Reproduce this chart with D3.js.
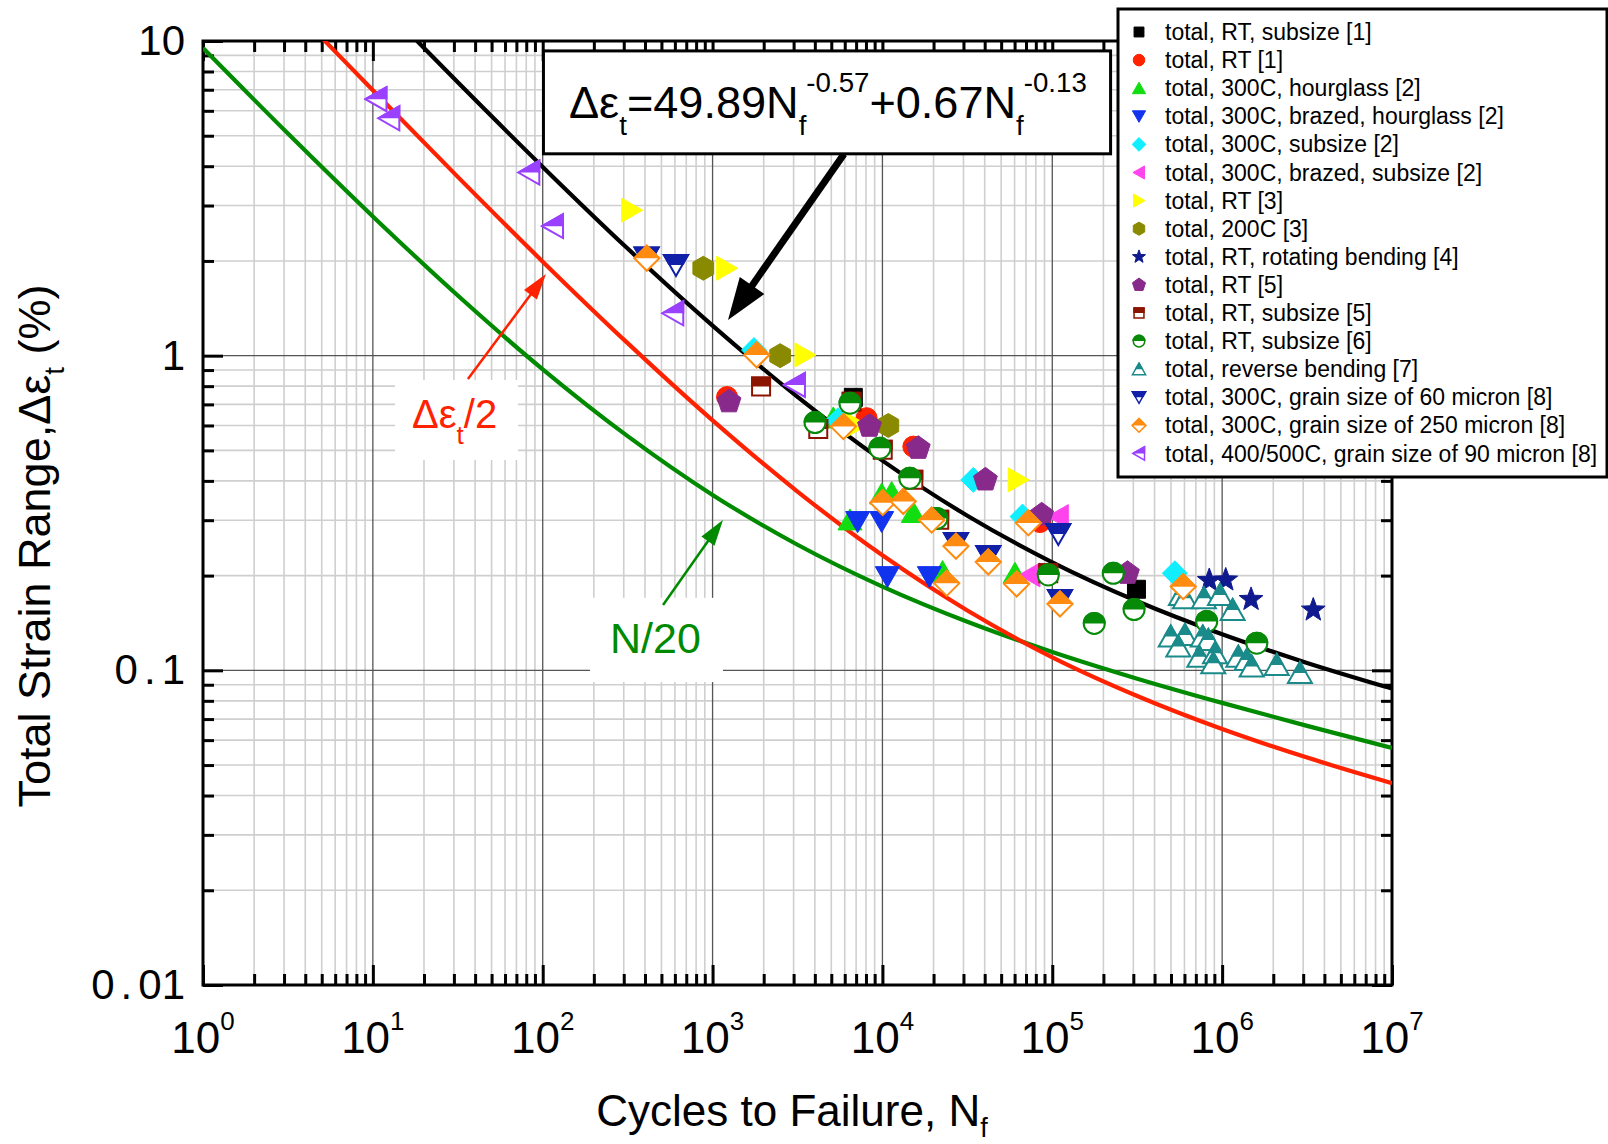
<!DOCTYPE html>
<html lang="en">
<head>
<meta charset="UTF-8">
<title>Strain-life</title>
<script src="https://d3js.org/d3.v7.min.js"></script>
<style>
  body { margin: 0; background: #fff; }
  svg text { font-family: "Liberation Sans", Arial, sans-serif; }
</style>
</head>
<body>
<div id="chart"></div>
<script>
// fitted curves (cycles, strain range %)
var totalCurveN = [10, 31.62, 100, 316.2, 1000, 3162, 10000, 31623, 100000, 316228, 1000000, 3162278, 10000000];
var totalCurve = [13.93, 7.39, 3.98, 2.19, 1.246, 0.740, 0.464, 0.310, 0.2205, 0.1658, 0.1302, 0.1056, 0.0875];
var halfCurveN = [3.162, 10, 31.62, 100, 316.2, 1000, 3162, 10000, 31623, 100000, 316228, 1000000, 3162278, 10000000];
var halfCurve = [13.23, 6.97, 3.70, 1.99, 1.096, 0.623, 0.370, 0.232, 0.155, 0.110, 0.0829, 0.0651, 0.0528, 0.0438];
var n20CurveN = [1, 3.162, 10, 31.62, 100, 316.2, 1000, 3162, 10000, 31623, 100000, 316228, 1000000, 3162278, 10000000];
var n20Curve = [9.50, 5.08, 2.77, 1.553, 0.905, 0.555, 0.361, 0.2507, 0.1846, 0.1427, 0.1144, 0.0941, 0.0788, 0.0666, 0.0567];

// test data [cycles, strain range %]
var rtSubsize1 = [[6740, 0.737], [313000, 0.181]];
var rt1 = [[1217, 0.739], [8070, 0.633], [15200, 0.514], [84700, 0.296]];
var hourglass300 = [[5140, 0.634], [9900, 0.3635], [11330, 0.3675], [15200, 0.3175], [6440, 0.3006], [22600, 0.206], [60300, 0.2035]];
var brazedHourglass300 = [[7150, 0.297], [9900, 0.297], [10690, 0.1985], [18900, 0.1985]];
var subsize300 = [[1754, 1.042], [5480, 0.623], [34300, 0.403], [66800, 0.308], [527000, 0.2035]];
var brazedSubsize300 = [[108500, 0.308], [73900, 0.201]];
var rt3 = [[334, 2.90], [1211, 1.896], [3500, 1.005], [7050, 0.602], [63000, 0.403]];
var c200_3 = [[882, 1.896], [2500, 1.0], [10830, 0.600]];
var rotating4 = [[840000, 0.193], [1050000, 0.1937], [1480000, 0.168], [3440000, 0.1555]];
var rt5 = [[1250, 0.714], [8390, 0.597], [16260, 0.508], [40400, 0.403], [86600, 0.312], [277000, 0.2035]];
var rtSubsize5 = [[1930, 0.798], [6590, 0.714], [4190, 0.585], [10040, 0.502], [15200, 0.403], [21600, 0.301], [94700, 0.2035]];
var rtSubsize6 = [[6440, 0.706], [4010, 0.613], [9660, 0.508], [14500, 0.408], [20900, 0.304], [94700, 0.201], [228600, 0.2034], [176600, 0.141], [303000, 0.156], [811000, 0.143], [1600000, 0.122]];
var reverse7 = [[572000, 0.1735], [604000, 0.1694], [781000, 0.1694], [971000, 0.1735], [1153000, 0.1555], [498000, 0.128], [604000, 0.1296], [552000, 0.119], [769000, 0.128], [829000, 0.1249], [734000, 0.1105], [908000, 0.1133], [887000, 0.1053], [1245000, 0.1105], [1395000, 0.1079], [1493000, 0.1028], [2096000, 0.104], [2870000, 0.098]];
var grain60 = [[409, 2.05], [609, 1.94], [108500, 0.271], [27100, 0.254], [42000, 0.231], [111000, 0.1674]];
var grain250 = [[410, 2.04], [1820, 1.005], [5890, 0.595], [10040, 0.341], [13270, 0.344], [19500, 0.300], [27100, 0.248], [42000, 0.221], [23900, 0.189], [61700, 0.188], [72300, 0.294], [111000, 0.1625], [590000, 0.1845]];
var grain90 = [[10.5, 6.53], [12.5, 5.68], [83.4, 3.82], [115, 2.58], [587, 1.364], [3055, 0.807]];

var legendLabels = [
    'total, RT, subsize [1]',
    'total, RT [1]',
    'total, 300C, hourglass [2]',
    'total, 300C, brazed, hourglass [2]',
    'total, 300C, subsize [2]',
    'total, 300C, brazed, subsize [2]',
    'total, RT [3]',
    'total, 200C [3]',
    'total, RT, rotating bending [4]',
    'total, RT [5]',
    'total, RT, subsize [5]',
    'total, RT, subsize [6]',
    'total, reverse bending [7]',
    'total, 300C, grain size of 60 micron [8]',
    'total, 300C, grain size of 250 micron [8]',
    'total, 400/500C, grain size of 90 micron [8]'
];

var xTickValues = [1, 10, 100, 1000, 10000, 100000, 1000000, 10000000];
var xTickExp = ['0', '1', '2', '3', '4', '5', '6', '7'];
var yTickValues = [0.01, 0.1, 1, 10];
var yTickLabels = ['0.01', '0.1', '1', '10'];

var series = [
    { data: rtSubsize1, color: '#000000', shape: 'square', half: false },
    { data: rt1, color: '#ff2200', shape: 'circle', half: false },
    { data: hourglass300, color: '#11dd11', shape: 'triUp', half: false },
    { data: brazedHourglass300, color: '#1133ee', shape: 'triDown', half: false },
    { data: subsize300, color: '#11eeff', shape: 'diamond', half: false },
    { data: brazedSubsize300, color: '#ff44ee', shape: 'triLeft', half: false },
    { data: rt3, color: '#ffff00', shape: 'triRight', half: false },
    { data: c200_3, color: '#8a8a00', shape: 'hexagon', half: false },
    { data: rotating4, color: '#0f1a8f', shape: 'star', half: false },
    { data: rt5, color: '#882a8c', shape: 'pentagon', half: false },
    { data: rtSubsize5, color: '#8b1500', shape: 'square', half: true },
    { data: rtSubsize6, color: '#078a07', shape: 'circle', half: true },
    { data: reverse7, color: '#1a8a8a', shape: 'triUp', half: true },
    { data: grain60, color: '#1020a8', shape: 'triDown', half: true },
    { data: grain250, color: '#ff8c10', shape: 'diamond', half: true },
    { data: grain90, color: '#9a40ff', shape: 'triLeft', half: true }
];
series.forEach(function (s, i) { s.label = legendLabels[i]; });

var width = 1608, height = 1144;
var plotL = 203, plotR = 1392, plotT = 41, plotB = 985;

var svg = d3.select('#chart').append('svg')
    .attr('width', width)
    .attr('height', height);

var x = d3.scaleLog().domain([1, 1e7]).range([plotL, plotR]);
var y = d3.scaleLog().domain([0.01, 10]).range([plotB, plotT]);

var defs = svg.append('defs');
defs.append('clipPath').attr('id', 'plotclip')
    .append('rect').attr('x', plotL).attr('y', plotT).attr('width', plotR - plotL).attr('height', plotB - plotT);
defs.append('clipPath').attr('id', 'tophalf')
    .append('rect').attr('x', -40).attr('y', -40).attr('width', 80).attr('height', 40);

// minor / major positions
var xMinor = [], yMinor = [];
xTickValues.slice(0, -1).forEach(function (d) { for (var k = 2; k < 10; k++) xMinor.push(d * k); });
yTickValues.slice(0, -1).forEach(function (d) { for (var k = 2; k < 10; k++) yMinor.push(d * k); });
var xMajorIn = xTickValues.slice(1, -1), yMajorIn = yTickValues.slice(1, -1);

// grid
var grid = svg.append('g');
grid.selectAll('.vx').data(xMinor).enter().append('line')
    .attr('x1', d => x(d)).attr('x2', d => x(d)).attr('y1', plotT).attr('y2', plotB)
    .attr('stroke', '#cfcfcf').attr('stroke-width', 1.6);
grid.selectAll('.hy').data(yMinor).enter().append('line')
    .attr('y1', d => y(d)).attr('y2', d => y(d)).attr('x1', plotL).attr('x2', plotR)
    .attr('stroke', '#cfcfcf').attr('stroke-width', 1.6);
grid.selectAll('.vX').data(xMajorIn).enter().append('line')
    .attr('x1', d => x(d)).attr('x2', d => x(d)).attr('y1', plotT).attr('y2', plotB)
    .attr('stroke', '#555').attr('stroke-width', 1.3);
grid.selectAll('.hY').data(yMajorIn).enter().append('line')
    .attr('y1', d => y(d)).attr('y2', d => y(d)).attr('x1', plotL).attr('x2', plotR)
    .attr('stroke', '#555').attr('stroke-width', 1.3);

// ticks on all four sides, pointing inward
function ticks(axis, tr, vals, size) {
    var g = svg.append('g').attr('transform', tr)
        .call(axis.tickValues(vals).tickSize(size).tickSizeOuter(0).tickFormat(''));
    g.select('.domain').remove();
    g.selectAll('line').attr('stroke', '#000').attr('stroke-width', 3);
}
ticks(d3.axisBottom(x), 'translate(0,' + plotB + ')', xTickValues, -20);
ticks(d3.axisBottom(x), 'translate(0,' + plotB + ')', xMinor, -11);
ticks(d3.axisTop(x), 'translate(0,' + plotT + ')', xTickValues, -20);
ticks(d3.axisTop(x), 'translate(0,' + plotT + ')', xMinor, -11);
ticks(d3.axisLeft(y), 'translate(' + plotL + ',0)', yTickValues, -20);
ticks(d3.axisLeft(y), 'translate(' + plotL + ',0)', yMinor, -11);
ticks(d3.axisRight(y), 'translate(' + plotR + ',0)', yTickValues, -20);
ticks(d3.axisRight(y), 'translate(' + plotR + ',0)', yMinor, -11);

svg.append('rect').attr('x', plotL).attr('y', plotT).attr('width', plotR - plotL).attr('height', plotB - plotT)
    .attr('fill', 'none').attr('stroke', '#000').attr('stroke-width', 3);

// tick labels (wide decimal point like the original)
var yl = svg.append('g').selectAll('text').data(yTickValues).enter().append('text')
    .attr('x', 185).attr('y', d => y(d) + 14)
    .attr('text-anchor', 'end').style('font-size', '42px');
yl.each(function (d, i) {
    var t = d3.select(this), chars = yTickLabels[i].split('');
    chars.forEach(function (c, j) {
        t.append('tspan').attr('dx', (c === '.' || chars[j - 1] === '.') ? 6 : 0).text(c);
    });
});
var xl = svg.append('g').selectAll('text').data(xTickValues).enter().append('text')
    .attr('x', d => x(d)).attr('y', 1053)
    .attr('text-anchor', 'middle').style('font-size', '44px');
xl.append('tspan').text('10');
xl.append('tspan').attr('dy', -23).style('font-size', '26px').text((d, i) => xTickExp[i]);

// axis titles
var xt = svg.append('text').attr('x', 792).attr('y', 1126).attr('text-anchor', 'middle').style('font-size', '44px');
xt.append('tspan').text('Cycles to Failure, N');
xt.append('tspan').attr('dy', 11).style('font-size', '27px').text('f');
var yt = svg.append('text').attr('transform', 'translate(50,546) rotate(-90)').attr('text-anchor', 'middle').style('font-size', '45px');
yt.append('tspan').text('Total Strain Range,\u0394\u03b5');
yt.append('tspan').attr('dy', 14).style('font-size', '28px').text('t');
yt.append('tspan').attr('dy', -14).text(' (%)');

// curves
var line = d3.line().x(d => x(d[0])).y(d => y(d[1])).curve(d3.curveCatmullRom);
var curves = svg.append('g').attr('clip-path', 'url(#plotclip)');
[[n20CurveN, n20Curve, '#008a00'], [halfCurveN, halfCurve, '#ff2200'], [totalCurveN, totalCurve, '#000000']].forEach(function (c) {
    curves.append('path')
        .attr('d', line(c[0].map((n, i) => [n, c[1][i]])))
        .attr('fill', 'none').attr('stroke', c[2]).attr('stroke-width', 4.2);
});

// marker shapes
var shapePts = {
    square: [[-9, -9], [9, -9], [9, 9], [-9, 9]],
    triUp: [[0, -11], [12, 10], [-12, 10]],
    triDown: [[0, 11], [12, -10], [-12, -10]],
    triLeft: [[-11, 0], [10, -12], [10, 12]],
    triRight: [[11, 0], [-10, -12], [-10, 12]],
    diamond: [[0, -12.5], [12.5, 0], [0, 12.5], [-12.5, 0]]
};
function polar(r, a) { a = a * Math.PI / 180; return [r * Math.cos(a), r * Math.sin(a)]; }
function shapePath(type, k) {
    var pts;
    if (type === 'circle') {
        var r = 10.5 * k;
        return 'M' + r + ',0A' + r + ',' + r + ' 0 1,1 ' + (-r) + ',0A' + r + ',' + r + ' 0 1,1 ' + r + ',0Z';
    }
    if (type === 'hexagon') pts = d3.range(6).map(i => polar(12, -90 + 60 * i));
    else if (type === 'pentagon') pts = d3.range(5).map(i => polar(12.5, -90 + 72 * i));
    else if (type === 'star') pts = d3.range(10).map(i => polar(i % 2 ? 5.2 : 12.5, -90 + 36 * i));
    else pts = shapePts[type];
    return 'M' + pts.map(p => (p[0] * k).toFixed(2) + ',' + (p[1] * k).toFixed(2)).join('L') + 'Z';
}
function drawMarker(g, s, k, sw) {
    if (s.half) {
        g.append('path').attr('d', shapePath(s.shape, k))
            .attr('fill', '#fff').attr('stroke', s.color).attr('stroke-width', sw);
        g.append('path').attr('d', shapePath(s.shape, k))
            .attr('fill', s.color).attr('stroke', s.color).attr('stroke-width', sw)
            .attr('clip-path', 'url(#tophalf)');
    } else {
        g.append('path').attr('d', shapePath(s.shape, k))
            .attr('fill', s.color).attr('stroke', s.color).attr('stroke-width', 1);
    }
}

var pts = svg.append('g');
series.forEach(function (s) {
    pts.append('g').selectAll('g').data(s.data).enter().append('g')
        .attr('transform', d => 'translate(' + x(d[0]) + ',' + y(d[1]) + ')')
        .each(function () { drawMarker(d3.select(this), s, 1, 2); });
});

// arrows
function arrow(from, to, color, w, hl, hw) {
    var x1 = x(from[0]), y1 = y(from[1]), x2 = x(to[0]), y2 = y(to[1]);
    var dx = x2 - x1, dy = y2 - y1, L = Math.sqrt(dx * dx + dy * dy), ux = dx / L, uy = dy / L;
    var bx = x2 - ux * hl, by = y2 - uy * hl;
    svg.append('line').attr('x1', x1).attr('y1', y1).attr('x2', bx + ux * 2).attr('y2', by + uy * 2)
        .attr('stroke', color).attr('stroke-width', w);
    svg.append('path')
        .attr('d', 'M' + x2 + ',' + y2 + 'L' + (bx - uy * hw / 2) + ',' + (by + ux * hw / 2) +
            'L' + (bx + uy * hw / 2) + ',' + (by - ux * hw / 2) + 'Z')
        .attr('fill', color);
}

// label boxes
svg.append('rect').attr('x', x(13.5)).attr('y', y(0.837)).attr('width', x(71.5) - x(13.5)).attr('height', y(0.466) - y(0.837)).attr('fill', '#fff');
var lb1 = svg.append('text').attr('x', x(17)).attr('y', y(0.589)).attr('fill', '#ff2200').style('font-size', '40px');
lb1.append('tspan').text('\u0394\u03b5');
lb1.append('tspan').attr('dy', 16).style('font-size', '26px').text('t');
lb1.append('tspan').attr('dy', -16).text('/2');
svg.append('rect').attr('x', x(190)).attr('y', y(0.170)).attr('width', x(1151) - x(190)).attr('height', y(0.0918) - y(0.170)).attr('fill', '#fff');
svg.append('text').attr('x', x(249)).attr('y', y(0.1136)).attr('fill', '#008a00').style('font-size', '43px').text('N/20');

arrow([36.3, 0.843], [104.5, 1.818], '#ff2200', 2.5, 26, 16);
arrow([511, 0.1614], [1151, 0.3006], '#008a00', 2.5, 26, 16);
arrow([5940, 4.375], [1233, 1.299], '#000000', 7, 42, 30);

// equation box
svg.append('rect').attr('x', x(101)).attr('y', y(9.30)).attr('width', x(220400) - x(101)).attr('height', y(4.38) - y(9.30))
    .attr('fill', '#fff').attr('stroke', '#000').attr('stroke-width', 3);
var ex = x(142.8), eqy = y(5.69);
var eq = svg.append('text').attr('x', ex).attr('y', eqy).style('font-size', '44px');
eq.append('tspan').text('\u0394\u03b5');
eq.append('tspan').attr('dy', 17).style('font-size', '27px').text('t');
eq.append('tspan').attr('dy', -17).text('=49.89N');
eq.append('tspan').attr('dy', 17).style('font-size', '27px').text('f');
eq.append('tspan').attr('dy', -43).style('font-size', '27px').text('-0.57');
eq.append('tspan').attr('dy', 26).text('+0.67N');
eq.append('tspan').attr('dy', 17).style('font-size', '27px').text('f');
eq.append('tspan').attr('dy', -43).style('font-size', '27px').text('-0.13');
var eqW = eq.node().getComputedTextLength();
var kx = (x(160000) - ex) / eqW;
eq.attr('transform', 'translate(' + ex + ',0) scale(' + kx + ',1) translate(' + (-ex) + ',0)');

// legend
var lg = svg.append('g');
lg.append('rect').attr('x', 1118).attr('y', 9).attr('width', 489).attr('height', 468)
    .attr('fill', '#fff').attr('stroke', '#000').attr('stroke-width', 3);
var rows = lg.selectAll('.row').data(series).enter().append('g')
    .attr('transform', (d, i) => 'translate(1139,' + (32 + i * 28.1) + ')');
rows.each(function (s) { drawMarker(d3.select(this), s, 0.55, 1.5); });
rows.append('text').attr('x', 26).attr('y', 8).style('font-size', '23px').text(d => d.label);
</script>
</body>
</html>
